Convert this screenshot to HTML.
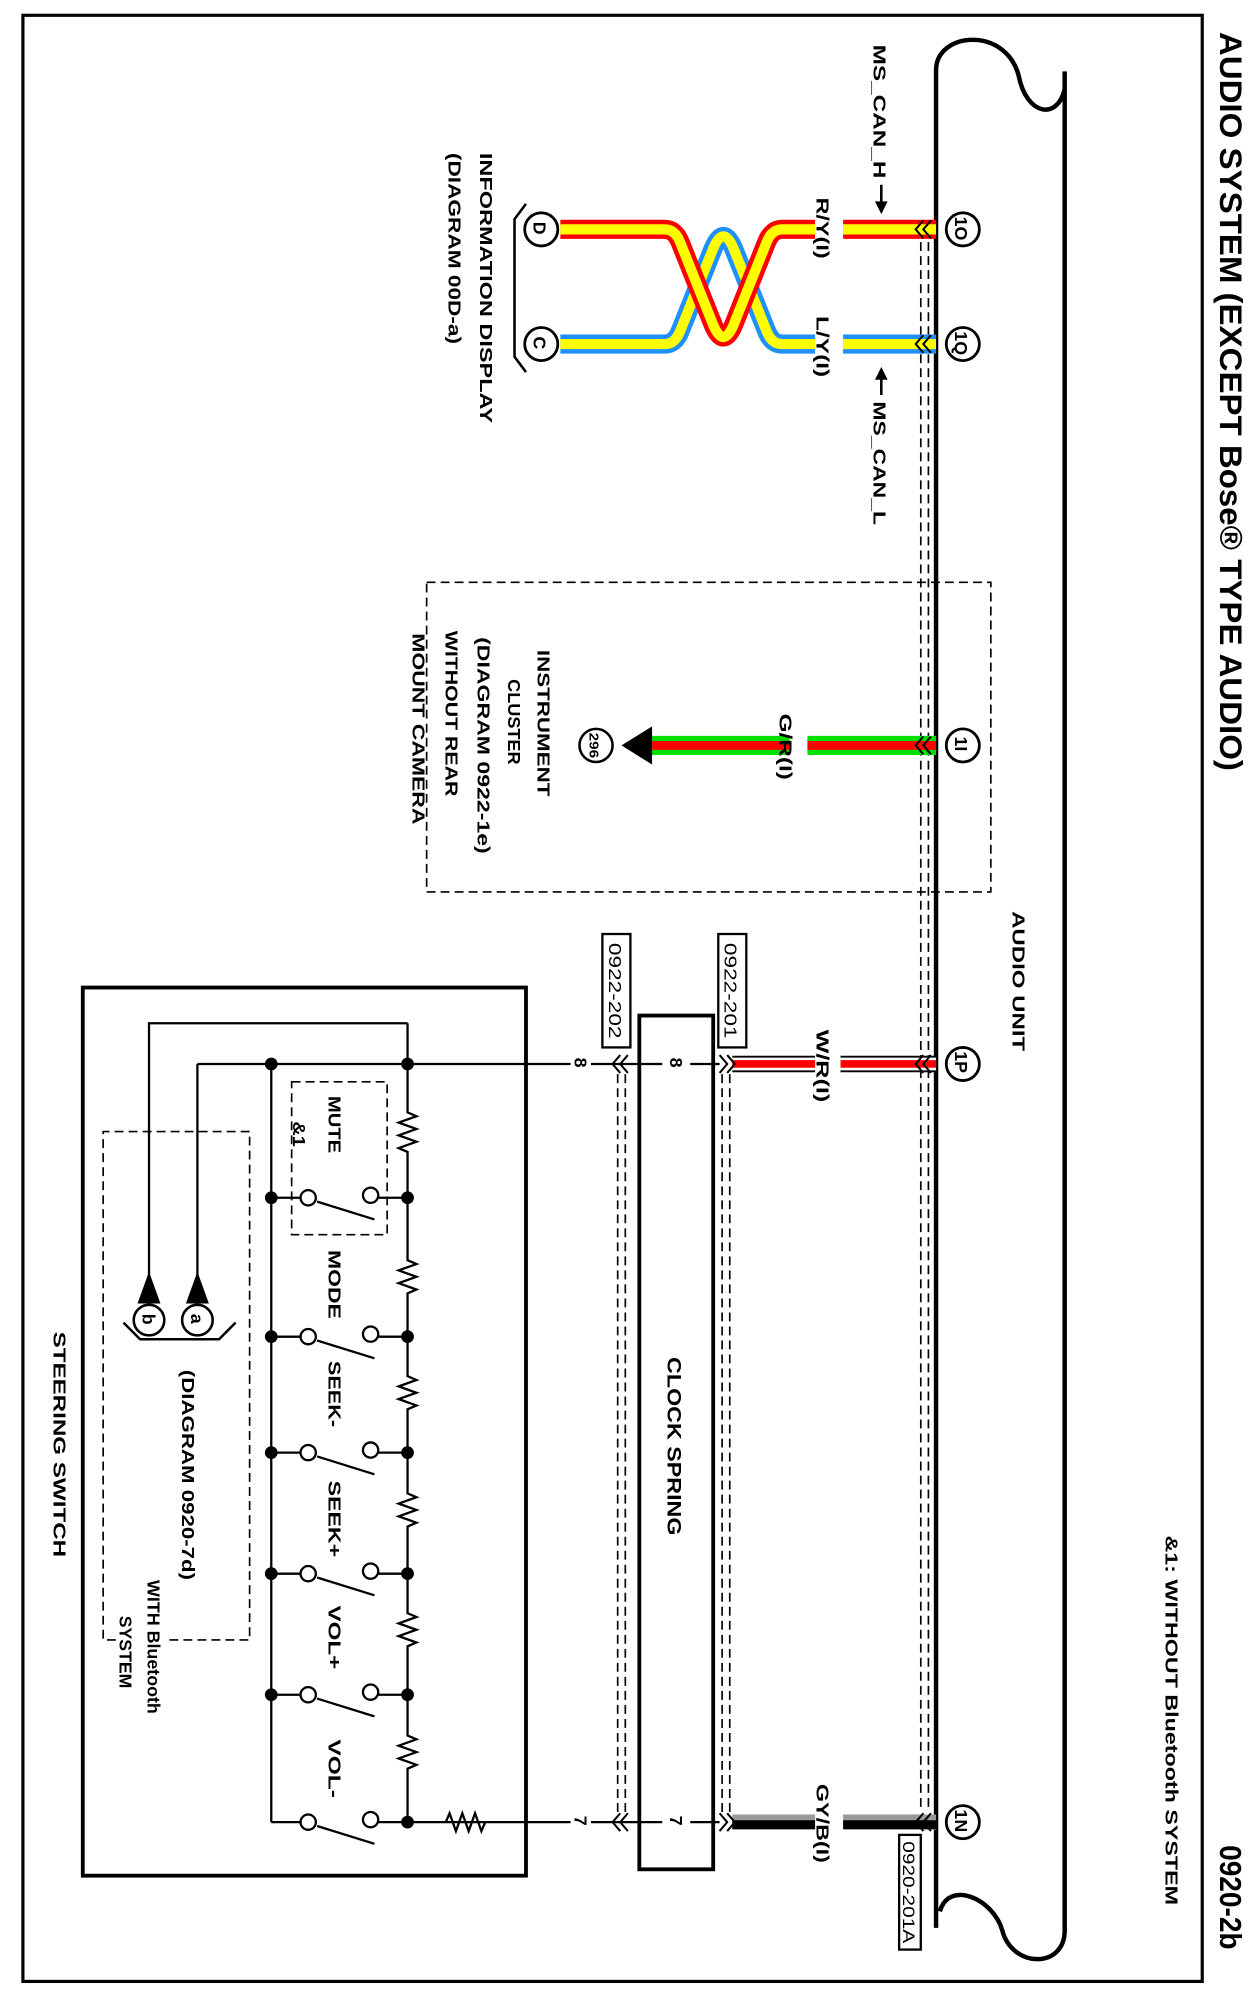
<!DOCTYPE html>
<html><head><meta charset="utf-8"><style>
html,body{margin:0;padding:0;background:#fff}
svg{display:block}
text{font-family:"Liberation Sans",Arial,sans-serif;font-weight:bold;fill:#000}
</style></head><body>
<svg width="1257" height="1998" viewBox="0 0 987 1568" preserveAspectRatio="none" xmlns="http://www.w3.org/2000/svg">
<rect x="18" y="12" width="926" height="1543" fill="none" stroke="#000" stroke-width="2.5"/>

<text transform="translate(958,25) rotate(90)" font-size="25" textLength="580" lengthAdjust="spacingAndGlyphs">AUDIO SYSTEM (EXCEPT Bose® TYPE AUDIO)</text>
<text transform="translate(958,1448) rotate(90)" font-size="24" textLength="82" lengthAdjust="spacingAndGlyphs">0920-2b</text>
<text transform="translate(915,1205) rotate(90)" font-size="14" textLength="290" lengthAdjust="spacingAndGlyphs">&amp;1: WITHOUT Bluetooth SYSTEM</text>

<g fill="none" stroke="#000" stroke-width="3.5">
<path d="M735,1513 L735,55 C735,25 790,20 800,60 C806,90 830,95 836,70"/>
<path d="M836,56 L836,1515 C836,1545 795,1545 787,1515 C780,1490 745,1475 738,1500"/>
</g>
<text transform="translate(795,715) rotate(90)" font-size="14" textLength="110" lengthAdjust="spacingAndGlyphs">AUDIO UNIT</text>

<g stroke="#000" stroke-width="1.3" stroke-dasharray="7,4" fill="none">
<line x1="723" y1="190" x2="723" y2="1422"/><line x1="729" y1="190" x2="729" y2="1422"/>
<line x1="567" y1="843" x2="567" y2="1422"/><line x1="573" y1="843" x2="573" y2="1422"/>
<line x1="485" y1="843" x2="485" y2="1422"/><line x1="491" y1="843" x2="491" y2="1422"/>
</g>

<g fill="none" stroke-linejoin="round" stroke-linecap="butt">
<path d="M440,270 L522,270 Q530,270 534,260 L560,195 Q568,176 576,195 L602,260 Q606,270 614,270 L640,270" stroke="#1e90ff" stroke-width="15"/>
<path d="M440,270 L522,270 Q530,270 534,260 L560,195 Q568,176 576,195 L602,260 Q606,270 614,270 L640,270" stroke="#ffff00" stroke-width="8"/>
<path d="M440,180 L522,180 Q530,180 534,190 L560,255 Q568,274 576,255 L602,190 Q606,180 614,180 L640,180" stroke="#ff0000" stroke-width="15"/>
<path d="M440,180 L522,180 Q530,180 534,190 L560,255 Q568,274 576,255 L602,190 Q606,180 614,180 L640,180" stroke="#ffff00" stroke-width="8"/>
<line x1="662" y1="180" x2="735" y2="180" stroke="#ff0000" stroke-width="15"/>
<line x1="662" y1="180" x2="735" y2="180" stroke="#ffff00" stroke-width="8"/>
<line x1="662" y1="270" x2="735" y2="270" stroke="#1e90ff" stroke-width="15"/>
<line x1="662" y1="270" x2="735" y2="270" stroke="#ffff00" stroke-width="8"/>
</g>
<text transform="translate(641,155) rotate(90)" font-size="14" textLength="48" lengthAdjust="spacingAndGlyphs">R/Y(I)</text>
<text transform="translate(641,248) rotate(90)" font-size="14" textLength="48" lengthAdjust="spacingAndGlyphs">L/Y(I)</text>
<text transform="translate(686,35) rotate(90)" font-size="14" textLength="105" lengthAdjust="spacingAndGlyphs">MS_CAN_H</text>
<line x1="692" y1="145" x2="692" y2="160" stroke="#000" stroke-width="2"/>
<polygon points="687,158 697,158 692,168" fill="#000"/>
<line x1="692" y1="296" x2="692" y2="310" stroke="#000" stroke-width="2"/>
<polygon points="687,298 697,298 692,288" fill="#000"/>
<text transform="translate(686,315) rotate(90)" font-size="14" textLength="97" lengthAdjust="spacingAndGlyphs">MS_CAN_L</text>

<g fill="#fff" stroke="#000" stroke-width="2.2">
<circle cx="425" cy="180" r="13"/><circle cx="425" cy="270" r="13"/>
</g>
<text transform="translate(419,174) rotate(90)" font-size="14">D</text>
<text transform="translate(419,264) rotate(90)" font-size="14">C</text>
<path d="M413,160 L404,172 L404,280 L413,292" fill="none" stroke="#000" stroke-width="2"/>
<text transform="translate(377,120) rotate(90)" font-size="14" textLength="212" lengthAdjust="spacingAndGlyphs">INFORMATION DISPLAY</text>
<text transform="translate(352,120) rotate(90)" font-size="14" textLength="150" lengthAdjust="spacingAndGlyphs">(DIAGRAM 00D-a)</text>

<rect x="335" y="457" width="443" height="243" fill="none" stroke="#000" stroke-width="1.3" stroke-dasharray="7,4"/>
<line x1="512" y1="585" x2="620" y2="585" stroke="#00e000" stroke-width="15"/>
<line x1="512" y1="585" x2="620" y2="585" stroke="#ff0000" stroke-width="7"/>
<line x1="634" y1="585" x2="735" y2="585" stroke="#00e000" stroke-width="15"/>
<line x1="634" y1="585" x2="735" y2="585" stroke="#ff0000" stroke-width="7"/>
<polygon points="488,585 512,570 512,600" fill="#000"/>
<circle cx="468" cy="585" r="13" fill="#fff" stroke="#000" stroke-width="2"/>
<text transform="translate(463,575) rotate(90)" font-size="10" textLength="20" lengthAdjust="spacingAndGlyphs">296</text>
<text transform="translate(612,560) rotate(90)" font-size="14" textLength="52" lengthAdjust="spacingAndGlyphs">G/R(I)</text>
<text transform="translate(422,510) rotate(90)" font-size="14" textLength="115" lengthAdjust="spacingAndGlyphs">INSTRUMENT</text>
<text transform="translate(399,533) rotate(90)" font-size="14" textLength="67" lengthAdjust="spacingAndGlyphs">CLUSTER</text>
<text transform="translate(375,500) rotate(90)" font-size="14" textLength="170" lengthAdjust="spacingAndGlyphs">(DIAGRAM 0922-1e)</text>
<text transform="translate(350,495) rotate(90)" font-size="14" textLength="130" lengthAdjust="spacingAndGlyphs">WITHOUT REAR</text>
<text transform="translate(324,497) rotate(90)" font-size="14" textLength="150" lengthAdjust="spacingAndGlyphs">MOUNT CAMERA</text>

<g>
<line x1="575" y1="835" x2="640" y2="835" stroke="#000" stroke-width="13"/>
<line x1="575" y1="835" x2="640" y2="835" stroke="#fff" stroke-width="10"/>
<line x1="575" y1="835" x2="640" y2="835" stroke="#f00" stroke-width="6"/>
<line x1="660" y1="835" x2="735" y2="835" stroke="#000" stroke-width="13"/>
<line x1="660" y1="835" x2="735" y2="835" stroke="#fff" stroke-width="10"/>
<line x1="660" y1="835" x2="735" y2="835" stroke="#f00" stroke-width="6"/>
</g>
<text transform="translate(641,808) rotate(90)" font-size="14" textLength="57" lengthAdjust="spacingAndGlyphs">W/R(I)</text>
<line x1="575" y1="1430" x2="640" y2="1430" stroke="#999" stroke-width="12"/>
<line x1="575" y1="1432" x2="640" y2="1432" stroke="#000" stroke-width="7"/>
<line x1="662" y1="1430" x2="735" y2="1430" stroke="#999" stroke-width="12"/>
<line x1="662" y1="1432" x2="735" y2="1432" stroke="#000" stroke-width="7"/>
<text transform="translate(641,1400) rotate(90)" font-size="14" textLength="62" lengthAdjust="spacingAndGlyphs">GY/B(I)</text>

<g fill="#fff" stroke="#000" stroke-width="2.2">
<circle cx="756" cy="180" r="13"/><circle cx="756" cy="270" r="13"/><circle cx="756" cy="585" r="13"/><circle cx="756" cy="835" r="13"/><circle cx="756" cy="1430" r="13"/>
</g>
<g font-size="14">
<text transform="translate(750,170) rotate(90)">1O</text>
<text transform="translate(750,260) rotate(90)">1Q</text>
<text transform="translate(750,578) rotate(90)">1I</text>
<text transform="translate(750,825) rotate(90)">1P</text>
<text transform="translate(750,1420) rotate(90)">1N</text>
</g>

<g fill="none" stroke="#000" stroke-width="1.6">
<polyline points="725,173 719,180 725,187"/><polyline points="731,173 725,180 731,187"/>
<polyline points="725,263 719,270 725,277"/><polyline points="731,263 725,270 731,277"/>
<polyline points="725,578 719,585 725,592"/><polyline points="731,578 725,585 731,592"/>
<polyline points="725,828 719,835 725,842"/><polyline points="731,828 725,835 731,842"/>
<polyline points="725,1423 719,1430 725,1437"/><polyline points="731,1423 725,1430 731,1437"/>
<polyline points="565,828 571,835 565,842"/><polyline points="571,828 577,835 571,842"/>
<polyline points="565,1423 571,1430 565,1437"/><polyline points="571,1423 577,1430 571,1437"/>
<polyline points="487,828 481,835 487,842"/><polyline points="493,828 487,835 493,842"/>
<polyline points="487,1423 481,1430 487,1437"/><polyline points="493,1423 487,1430 493,1437"/>
</g>

<rect x="706" y="1440" width="17" height="90" fill="#fff" stroke="#000" stroke-width="1.8"/>
<text transform="translate(709,1445) rotate(90)" font-size="13" textLength="80" lengthAdjust="spacingAndGlyphs" style="font-weight:normal">0920-201A</text>
<rect x="564" y="733" width="22" height="89" fill="#fff" stroke="#000" stroke-width="1.8"/>
<text transform="translate(569,740) rotate(90)" font-size="14" textLength="75" lengthAdjust="spacingAndGlyphs" style="font-weight:normal">0922-201</text>
<rect x="473" y="733" width="22" height="89" fill="#fff" stroke="#000" stroke-width="1.8"/>
<text transform="translate(478,740) rotate(90)" font-size="14" textLength="75" lengthAdjust="spacingAndGlyphs" style="font-weight:normal">0922-202</text>

<rect x="502" y="797" width="58" height="670" fill="#fff" stroke="#000" stroke-width="3"/>
<g stroke="#000" stroke-width="1.8">
<line x1="481" y1="835" x2="520" y2="835"/><line x1="542" y1="835" x2="565" y2="835"/>
<line x1="481" y1="1430" x2="520" y2="1430"/><line x1="542" y1="1430" x2="565" y2="1430"/>
<line x1="320" y1="835" x2="448" y2="835"/><line x1="464" y1="835" x2="481" y2="835"/>
<line x1="320" y1="1430" x2="448" y2="1430"/><line x1="464" y1="1430" x2="481" y2="1430"/>
</g>
<g font-size="14" style="font-weight:normal">
<text transform="translate(526,830) rotate(90)">8</text>
<text transform="translate(526,1425) rotate(90)">7</text>
<text transform="translate(451,830) rotate(90)">8</text>
<text transform="translate(451,1425) rotate(90)">7</text>
</g>
<text transform="translate(524,1065) rotate(90)" font-size="15" textLength="140" lengthAdjust="spacingAndGlyphs">CLOCK SPRING</text>

<rect x="65" y="775" width="348" height="697" fill="none" stroke="#000" stroke-width="3"/>
<text transform="translate(42,1045) rotate(90)" font-size="14" textLength="177" lengthAdjust="spacingAndGlyphs">STEERING SWITCH</text>
<g fill="none" stroke="#000" stroke-width="1.8">
<path d="M320,803 L320,873 l7,3 l-14,5 l14,5 l-14,5 l14,5 l-14,5 l7,3 L320,989 l7,3 l-14,5 l14,5 l-14,5 l14,5 l-7,3 L320,1080 l7,3 l-14,5 l14,5 l-14,5 l14,5 l-7,3 L320,1172 l7,3 l-14,5 l14,5 l-14,5 l14,5 l-7,3 L320,1266 l7,3 l-14,5 l14,5 l-14,5 l14,5 l-7,3 L320,1362 l7,3 l-14,5 l14,5 l-14,5 l14,5 l-7,3 L320,1430"/>
<path d="M350,1430 l3,-7 l5,14 l5,-14 l5,14 l5,-14 l5,14 l3,-7"/>
<line x1="213" y1="835" x2="213" y2="1430"/>
<line x1="155" y1="835" x2="320" y2="835"/>
<line x1="155" y1="835" x2="155" y2="1005"/>
<path d="M117,1005 L117,803 L320,803"/>
<path d="M97,1038 L110,1051 L172,1051 L185,1038" stroke-width="2"/>
</g>
<polygon points="155,998 146,1023 164,1023" fill="#000"/>
<polygon points="117,998 108,1023 126,1023" fill="#000"/>
<g fill="#fff" stroke="#000" stroke-width="2"><circle cx="155" cy="1036" r="12"/><circle cx="117" cy="1036" r="12"/></g>
<text transform="translate(150,1031) rotate(90)" font-size="14">a</text>
<text transform="translate(112,1031) rotate(90)" font-size="14">b</text>
<text transform="translate(143,1075) rotate(90)" font-size="14" textLength="165" lengthAdjust="spacingAndGlyphs">(DIAGRAM 0920-7d)</text>
<text transform="translate(116,1240) rotate(90)" font-size="14" textLength="105" lengthAdjust="spacingAndGlyphs">WITH Bluetooth</text>
<text transform="translate(94,1268) rotate(90)" font-size="14" textLength="57" lengthAdjust="spacingAndGlyphs">SYSTEM</text>
<path d="M133,1287 L196,1287 L196,888 L81,888 L81,1287 L91,1287" fill="none" stroke="#000" stroke-width="1.3" stroke-dasharray="7,4"/>
<rect x="229" y="849" width="75" height="120" fill="none" stroke="#000" stroke-width="1.3" stroke-dasharray="7,4"/>

<g stroke="#000" stroke-width="1.8" fill="none">
<line x1="213" y1="940" x2="236" y2="940"/><line x1="297" y1="940" x2="320" y2="940"/>
<line x1="249" y1="943" x2="294" y2="957"/>
<line x1="213" y1="1049" x2="236" y2="1049"/><line x1="297" y1="1049" x2="320" y2="1049"/>
<line x1="249" y1="1052" x2="294" y2="1066"/>
<line x1="213" y1="1140" x2="236" y2="1140"/><line x1="297" y1="1140" x2="320" y2="1140"/>
<line x1="249" y1="1143" x2="294" y2="1157"/>
<line x1="213" y1="1235" x2="236" y2="1235"/><line x1="297" y1="1235" x2="320" y2="1235"/>
<line x1="249" y1="1238" x2="294" y2="1252"/>
<line x1="213" y1="1330" x2="236" y2="1330"/><line x1="297" y1="1330" x2="320" y2="1330"/>
<line x1="249" y1="1333" x2="294" y2="1347"/>
<line x1="213" y1="1430" x2="236" y2="1430"/><line x1="297" y1="1430" x2="320" y2="1430"/>
<line x1="249" y1="1433" x2="294" y2="1447"/>
</g>
<g fill="#fff" stroke="#000" stroke-width="1.8">
<circle cx="242" cy="940" r="6"/><circle cx="291" cy="938" r="6"/>
<circle cx="242" cy="1049" r="6"/><circle cx="291" cy="1047" r="6"/>
<circle cx="242" cy="1140" r="6"/><circle cx="291" cy="1138" r="6"/>
<circle cx="242" cy="1235" r="6"/><circle cx="291" cy="1233" r="6"/>
<circle cx="242" cy="1330" r="6"/><circle cx="291" cy="1328" r="6"/>
<circle cx="242" cy="1430" r="6"/><circle cx="291" cy="1428" r="6"/>
</g>
<g fill="#000">
<circle cx="320" cy="835" r="5"/><circle cx="213" cy="835" r="5"/>
<circle cx="320" cy="940" r="5"/><circle cx="213" cy="940" r="5"/>
<circle cx="320" cy="1049" r="5"/><circle cx="213" cy="1049" r="5"/>
<circle cx="320" cy="1140" r="5"/><circle cx="213" cy="1140" r="5"/>
<circle cx="320" cy="1235" r="5"/><circle cx="213" cy="1235" r="5"/>
<circle cx="320" cy="1330" r="5"/><circle cx="213" cy="1330" r="5"/>
<circle cx="320" cy="1430" r="5"/>
</g>
<g font-size="14">
<text transform="translate(258,860) rotate(90)" textLength="45" lengthAdjust="spacingAndGlyphs">MUTE</text>
<text transform="translate(230,880) rotate(90)" textLength="20" lengthAdjust="spacingAndGlyphs">&amp;1</text>
<text transform="translate(258,981) rotate(90)" textLength="54" lengthAdjust="spacingAndGlyphs">MODE</text>
<text transform="translate(258,1068) rotate(90)" textLength="52" lengthAdjust="spacingAndGlyphs">SEEK-</text>
<text transform="translate(258,1162) rotate(90)" textLength="60" lengthAdjust="spacingAndGlyphs">SEEK+</text>
<text transform="translate(258,1260) rotate(90)" textLength="50" lengthAdjust="spacingAndGlyphs">VOL+</text>
<text transform="translate(258,1365) rotate(90)" textLength="46" lengthAdjust="spacingAndGlyphs">VOL-</text>
</g>
</svg>
</body></html>
